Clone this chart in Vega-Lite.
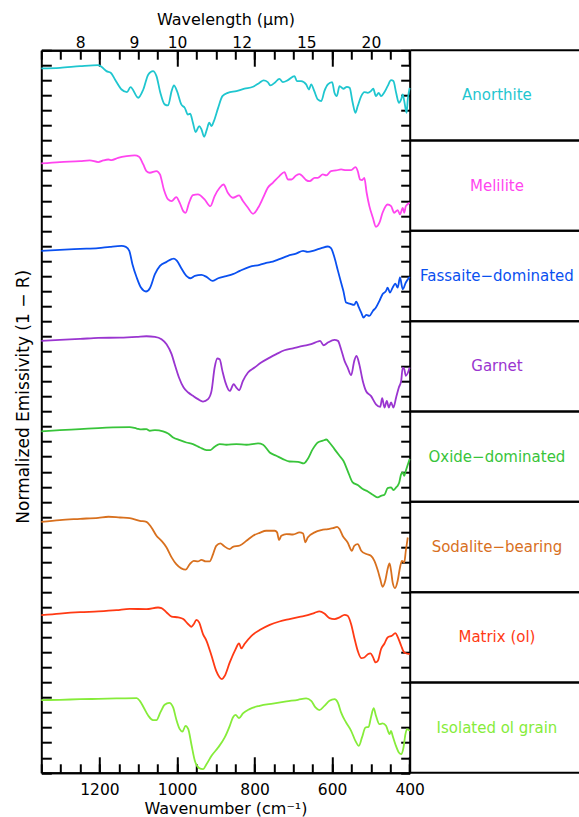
{
"$schema": "https://vega.github.io/schema/vega-lite/v6.json",
"padding": {"left": 14.3, "top": 11.2, "right": 0, "bottom": 0},
"spacing": 0,
"bounds": "flush",
"resolve": {"scale": {"x": "independent", "y": "independent"}},
"config": {
  "view": {"stroke": null},
  "axis": {"domainColor": "black", "domainWidth": 2, "tickColor": "black", "tickWidth": 2, "labelColor": "black", "titleColor": "black", "labelFont": "DejaVu Sans", "titleFont": "DejaVu Sans", "labelFontSize": 15.5, "titleFontSize": 16, "titleFontWeight": "normal", "grid": false, "labelFlush": false, "labelOverlap": false}
},
"datasets": {
"labels": [{"sample":"Anorthite"},{"sample":"Melilite"},{"sample":"Fassaite−dominated"},{"sample":"Garnet"},{"sample":"Oxide−dominated"},{"sample":"Sodalite−bearing"},{"sample":"Matrix (ol)"},{"sample":"Isolated ol grain"}],
"spectra": [
{"sample":"Anorthite","wn":1350,"e":46.79},{"sample":"Anorthite","wn":1302,"e":46.83},{"sample":"Anorthite","wn":1250,"e":46.94},{"sample":"Anorthite","wn":1203,"e":47.01},{"sample":"Anorthite","wn":1195,"e":46.9},{"sample":"Anorthite","wn":1182,"e":46.61},{"sample":"Anorthite","wn":1171,"e":46.5},{"sample":"Anorthite","wn":1160,"e":46.06},{"sample":"Anorthite","wn":1143,"e":45.39},{"sample":"Anorthite","wn":1129,"e":45.22},{"sample":"Anorthite","wn":1120,"e":45.55},{"sample":"Anorthite","wn":1100,"e":44.84},{"sample":"Anorthite","wn":1087,"e":45.39},{"sample":"Anorthite","wn":1074,"e":46.39},{"sample":"Anorthite","wn":1062,"e":46.61},{"sample":"Anorthite","wn":1053,"e":46.28},{"sample":"Anorthite","wn":1043,"e":45.17},{"sample":"Anorthite","wn":1032,"e":44.4},{"sample":"Anorthite","wn":1023,"e":44.33},{"sample":"Anorthite","wn":1014,"e":45.28},{"sample":"Anorthite","wn":1008,"e":45.66},{"sample":"Anorthite","wn":1000,"e":45.28},{"sample":"Anorthite","wn":989,"e":44.4},{"sample":"Anorthite","wn":980,"e":44.17},{"sample":"Anorthite","wn":972,"e":43.73},{"sample":"Anorthite","wn":966,"e":43.78},{"sample":"Anorthite","wn":959,"e":43.18},{"sample":"Anorthite","wn":952,"e":42.56},{"sample":"Anorthite","wn":943,"e":42.96},{"sample":"Anorthite","wn":937,"e":42.74},{"sample":"Anorthite","wn":930,"e":42.25},{"sample":"Anorthite","wn":923,"e":42.74},{"sample":"Anorthite","wn":917,"e":43.18},{"sample":"Anorthite","wn":911,"e":42.96},{"sample":"Anorthite","wn":905,"e":43.29},{"sample":"Anorthite","wn":894,"e":44.17},{"sample":"Anorthite","wn":883,"e":44.95},{"sample":"Anorthite","wn":869,"e":45.17},{"sample":"Anorthite","wn":847,"e":45.28},{"sample":"Anorthite","wn":826,"e":45.44},{"sample":"Anorthite","wn":804,"e":45.57},{"sample":"Anorthite","wn":787,"e":45.84},{"sample":"Anorthite","wn":777,"e":45.99},{"sample":"Anorthite","wn":766,"e":45.88},{"sample":"Anorthite","wn":759,"e":45.66},{"sample":"Anorthite","wn":748,"e":45.84},{"sample":"Anorthite","wn":736,"e":46.1},{"sample":"Anorthite","wn":727,"e":45.88},{"sample":"Anorthite","wn":714,"e":46.01},{"sample":"Anorthite","wn":697,"e":46.28},{"sample":"Anorthite","wn":691,"e":45.95},{"sample":"Anorthite","wn":680,"e":45.95},{"sample":"Anorthite","wn":667,"e":45.73},{"sample":"Anorthite","wn":660,"e":45.39},{"sample":"Anorthite","wn":654,"e":45.73},{"sample":"Anorthite","wn":646,"e":45.28},{"sample":"Anorthite","wn":637,"e":44.73},{"sample":"Anorthite","wn":628,"e":44.62},{"sample":"Anorthite","wn":620,"e":45.28},{"sample":"Anorthite","wn":611,"e":45.73},{"sample":"Anorthite","wn":600,"e":45.88},{"sample":"Anorthite","wn":594,"e":45.17},{"sample":"Anorthite","wn":588,"e":44.95},{"sample":"Anorthite","wn":581,"e":45.61},{"sample":"Anorthite","wn":571,"e":45.44},{"sample":"Anorthite","wn":562,"e":45.57},{"sample":"Anorthite","wn":555,"e":45.5},{"sample":"Anorthite","wn":547,"e":44.51},{"sample":"Anorthite","wn":540,"e":43.84},{"sample":"Anorthite","wn":534,"e":44.29},{"sample":"Anorthite","wn":525,"e":44.95},{"sample":"Anorthite","wn":517,"e":45.22},{"sample":"Anorthite","wn":508,"e":45.17},{"sample":"Anorthite","wn":500,"e":45.28},{"sample":"Anorthite","wn":494,"e":45.44},{"sample":"Anorthite","wn":487,"e":44.95},{"sample":"Anorthite","wn":480,"e":45.17},{"sample":"Anorthite","wn":474,"e":44.95},{"sample":"Anorthite","wn":465,"e":45.22},{"sample":"Anorthite","wn":457,"e":45.61},{"sample":"Anorthite","wn":448,"e":46.01},{"sample":"Anorthite","wn":442,"e":45.95},{"sample":"Anorthite","wn":435,"e":45.17},{"sample":"Anorthite","wn":428,"e":44.51},{"sample":"Anorthite","wn":422,"e":44.73},{"sample":"Anorthite","wn":418,"e":45.06},{"sample":"Anorthite","wn":414,"e":44.62},{"sample":"Anorthite","wn":408,"e":43.84},{"sample":"Anorthite","wn":405,"e":44.73},{"sample":"Anorthite","wn":400,"e":45.5},
{"sample":"Melilite","wn":1350,"e":40.48},{"sample":"Melilite","wn":1302,"e":40.57},{"sample":"Melilite","wn":1250,"e":40.63},{"sample":"Melilite","wn":1225,"e":40.68},{"sample":"Melilite","wn":1203,"e":40.57},{"sample":"Melilite","wn":1190,"e":40.68},{"sample":"Melilite","wn":1177,"e":40.74},{"sample":"Melilite","wn":1169,"e":40.7},{"sample":"Melilite","wn":1152,"e":40.85},{"sample":"Melilite","wn":1130,"e":40.96},{"sample":"Melilite","wn":1109,"e":41.01},{"sample":"Melilite","wn":1098,"e":40.92},{"sample":"Melilite","wn":1087,"e":40.41},{"sample":"Melilite","wn":1079,"e":39.97},{"sample":"Melilite","wn":1070,"e":39.86},{"sample":"Melilite","wn":1053,"e":39.97},{"sample":"Melilite","wn":1044,"e":39.75},{"sample":"Melilite","wn":1034,"e":38.75},{"sample":"Melilite","wn":1023,"e":38.09},{"sample":"Melilite","wn":1014,"e":37.98},{"sample":"Melilite","wn":1002,"e":38.24},{"sample":"Melilite","wn":993,"e":37.86},{"sample":"Melilite","wn":984,"e":37.31},{"sample":"Melilite","wn":978,"e":37.2},{"sample":"Melilite","wn":969,"e":37.86},{"sample":"Melilite","wn":959,"e":38.37},{"sample":"Melilite","wn":946,"e":38.42},{"sample":"Melilite","wn":929,"e":38.09},{"sample":"Melilite","wn":914,"e":37.64},{"sample":"Melilite","wn":903,"e":38.31},{"sample":"Melilite","wn":890,"e":38.86},{"sample":"Melilite","wn":880,"e":39.08},{"sample":"Melilite","wn":869,"e":38.53},{"sample":"Melilite","wn":856,"e":38.2},{"sample":"Melilite","wn":840,"e":38.35},{"sample":"Melilite","wn":830,"e":37.98},{"sample":"Melilite","wn":817,"e":37.53},{"sample":"Melilite","wn":804,"e":37.13},{"sample":"Melilite","wn":791,"e":37.53},{"sample":"Melilite","wn":778,"e":38.2},{"sample":"Melilite","wn":766,"e":38.86},{"sample":"Melilite","wn":753,"e":39.19},{"sample":"Melilite","wn":736,"e":39.64},{"sample":"Melilite","wn":723,"e":39.9},{"sample":"Melilite","wn":714,"e":39.41},{"sample":"Melilite","wn":705,"e":39.41},{"sample":"Melilite","wn":693,"e":39.68},{"sample":"Melilite","wn":684,"e":39.77},{"sample":"Melilite","wn":675,"e":39.59},{"sample":"Melilite","wn":667,"e":39.37},{"sample":"Melilite","wn":658,"e":39.3},{"sample":"Melilite","wn":645,"e":39.52},{"sample":"Melilite","wn":637,"e":39.52},{"sample":"Melilite","wn":624,"e":39.75},{"sample":"Melilite","wn":615,"e":39.68},{"sample":"Melilite","wn":603,"e":39.97},{"sample":"Melilite","wn":590,"e":40.01},{"sample":"Melilite","wn":577,"e":40.08},{"sample":"Melilite","wn":564,"e":40.03},{"sample":"Melilite","wn":551,"e":40.03},{"sample":"Melilite","wn":540,"e":40.23},{"sample":"Melilite","wn":534,"e":39.97},{"sample":"Melilite","wn":528,"e":39.41},{"sample":"Melilite","wn":523,"e":39.37},{"sample":"Melilite","wn":517,"e":39.52},{"sample":"Melilite","wn":511,"e":38.53},{"sample":"Melilite","wn":504,"e":37.64},{"sample":"Melilite","wn":495,"e":36.87},{"sample":"Melilite","wn":487,"e":36.27},{"sample":"Melilite","wn":478,"e":36.54},{"sample":"Melilite","wn":470,"e":37.2},{"sample":"Melilite","wn":457,"e":37.75},{"sample":"Melilite","wn":448,"e":37.64},{"sample":"Melilite","wn":440,"e":37.2},{"sample":"Melilite","wn":431,"e":37.38},{"sample":"Melilite","wn":425,"e":37.09},{"sample":"Melilite","wn":418,"e":37.53},{"sample":"Melilite","wn":414,"e":37.2},{"sample":"Melilite","wn":410,"e":37.64},{"sample":"Melilite","wn":400,"e":37.86},
{"sample":"Fassaite−dominated","wn":1350,"e":34.67},{"sample":"Fassaite−dominated","wn":1302,"e":34.74},{"sample":"Fassaite−dominated","wn":1250,"e":34.8},{"sample":"Fassaite−dominated","wn":1203,"e":34.85},{"sample":"Fassaite−dominated","wn":1173,"e":34.94},{"sample":"Fassaite−dominated","wn":1143,"e":35.0},{"sample":"Fassaite−dominated","wn":1132,"e":34.94},{"sample":"Fassaite−dominated","wn":1123,"e":34.67},{"sample":"Fassaite−dominated","wn":1115,"e":33.78},{"sample":"Fassaite−dominated","wn":1104,"e":32.9},{"sample":"Fassaite−dominated","wn":1093,"e":32.23},{"sample":"Fassaite−dominated","wn":1080,"e":31.97},{"sample":"Fassaite−dominated","wn":1070,"e":32.19},{"sample":"Fassaite−dominated","wn":1057,"e":33.12},{"sample":"Fassaite−dominated","wn":1044,"e":33.67},{"sample":"Fassaite−dominated","wn":1027,"e":33.94},{"sample":"Fassaite−dominated","wn":1014,"e":34.12},{"sample":"Fassaite−dominated","wn":1008,"e":34.16},{"sample":"Fassaite−dominated","wn":1000,"e":34.01},{"sample":"Fassaite−dominated","wn":989,"e":33.52},{"sample":"Fassaite−dominated","wn":976,"e":33.01},{"sample":"Fassaite−dominated","wn":965,"e":32.85},{"sample":"Fassaite−dominated","wn":954,"e":33.01},{"sample":"Fassaite−dominated","wn":937,"e":33.08},{"sample":"Fassaite−dominated","wn":924,"e":32.94},{"sample":"Fassaite−dominated","wn":909,"e":32.68},{"sample":"Fassaite−dominated","wn":894,"e":32.85},{"sample":"Fassaite−dominated","wn":873,"e":32.99},{"sample":"Fassaite−dominated","wn":856,"e":33.12},{"sample":"Fassaite−dominated","wn":838,"e":33.34},{"sample":"Fassaite−dominated","wn":813,"e":33.61},{"sample":"Fassaite−dominated","wn":787,"e":33.74},{"sample":"Fassaite−dominated","wn":770,"e":33.87},{"sample":"Fassaite−dominated","wn":753,"e":33.96},{"sample":"Fassaite−dominated","wn":736,"e":34.12},{"sample":"Fassaite−dominated","wn":714,"e":34.34},{"sample":"Fassaite−dominated","wn":693,"e":34.49},{"sample":"Fassaite−dominated","wn":675,"e":34.67},{"sample":"Fassaite−dominated","wn":663,"e":34.6},{"sample":"Fassaite−dominated","wn":645,"e":34.71},{"sample":"Fassaite−dominated","wn":628,"e":34.85},{"sample":"Fassaite−dominated","wn":611,"e":34.96},{"sample":"Fassaite−dominated","wn":603,"e":34.85},{"sample":"Fassaite−dominated","wn":594,"e":34.23},{"sample":"Fassaite−dominated","wn":585,"e":33.34},{"sample":"Fassaite−dominated","wn":577,"e":32.57},{"sample":"Fassaite−dominated","wn":571,"e":32.01},{"sample":"Fassaite−dominated","wn":564,"e":31.24},{"sample":"Fassaite−dominated","wn":555,"e":31.17},{"sample":"Fassaite−dominated","wn":543,"e":31.08},{"sample":"Fassaite−dominated","wn":538,"e":31.3},{"sample":"Fassaite−dominated","wn":531,"e":30.91},{"sample":"Fassaite−dominated","wn":525,"e":30.57},{"sample":"Fassaite−dominated","wn":519,"e":30.24},{"sample":"Fassaite−dominated","wn":512,"e":30.42},{"sample":"Fassaite−dominated","wn":504,"e":30.35},{"sample":"Fassaite−dominated","wn":495,"e":30.68},{"sample":"Fassaite−dominated","wn":487,"e":30.91},{"sample":"Fassaite−dominated","wn":478,"e":31.35},{"sample":"Fassaite−dominated","wn":470,"e":31.79},{"sample":"Fassaite−dominated","wn":461,"e":32.01},{"sample":"Fassaite−dominated","wn":457,"e":32.23},{"sample":"Fassaite−dominated","wn":451,"e":31.9},{"sample":"Fassaite−dominated","wn":444,"e":32.23},{"sample":"Fassaite−dominated","wn":437,"e":32.5},{"sample":"Fassaite−dominated","wn":431,"e":32.23},{"sample":"Fassaite−dominated","wn":425,"e":32.9},{"sample":"Fassaite−dominated","wn":418,"e":32.12},{"sample":"Fassaite−dominated","wn":410,"e":32.57},{"sample":"Fassaite−dominated","wn":400,"e":32.94},
{"sample":"Garnet","wn":1350,"e":28.69},{"sample":"Garnet","wn":1302,"e":28.76},{"sample":"Garnet","wn":1250,"e":28.82},{"sample":"Garnet","wn":1203,"e":28.89},{"sample":"Garnet","wn":1147,"e":28.91},{"sample":"Garnet","wn":1104,"e":28.96},{"sample":"Garnet","wn":1079,"e":29.0},{"sample":"Garnet","wn":1057,"e":28.96},{"sample":"Garnet","wn":1040,"e":28.8},{"sample":"Garnet","wn":1027,"e":28.47},{"sample":"Garnet","wn":1014,"e":27.81},{"sample":"Garnet","wn":1006,"e":27.14},{"sample":"Garnet","wn":995,"e":26.26},{"sample":"Garnet","wn":983,"e":25.59},{"sample":"Garnet","wn":971,"e":25.26},{"sample":"Garnet","wn":959,"e":25.04},{"sample":"Garnet","wn":946,"e":24.82},{"sample":"Garnet","wn":933,"e":24.66},{"sample":"Garnet","wn":920,"e":24.82},{"sample":"Garnet","wn":911,"e":25.37},{"sample":"Garnet","wn":903,"e":26.92},{"sample":"Garnet","wn":896,"e":27.52},{"sample":"Garnet","wn":890,"e":27.47},{"sample":"Garnet","wn":883,"e":26.7},{"sample":"Garnet","wn":875,"e":25.92},{"sample":"Garnet","wn":864,"e":25.37},{"sample":"Garnet","wn":854,"e":25.81},{"sample":"Garnet","wn":847,"e":25.59},{"sample":"Garnet","wn":840,"e":25.41},{"sample":"Garnet","wn":830,"e":26.03},{"sample":"Garnet","wn":817,"e":26.59},{"sample":"Garnet","wn":800,"e":26.92},{"sample":"Garnet","wn":783,"e":27.25},{"sample":"Garnet","wn":761,"e":27.58},{"sample":"Garnet","wn":744,"e":27.81},{"sample":"Garnet","wn":723,"e":28.07},{"sample":"Garnet","wn":701,"e":28.2},{"sample":"Garnet","wn":675,"e":28.36},{"sample":"Garnet","wn":654,"e":28.47},{"sample":"Garnet","wn":637,"e":28.65},{"sample":"Garnet","wn":631,"e":28.69},{"sample":"Garnet","wn":622,"e":28.4},{"sample":"Garnet","wn":611,"e":28.58},{"sample":"Garnet","wn":594,"e":28.76},{"sample":"Garnet","wn":585,"e":28.69},{"sample":"Garnet","wn":577,"e":28.14},{"sample":"Garnet","wn":568,"e":27.36},{"sample":"Garnet","wn":560,"e":26.92},{"sample":"Garnet","wn":551,"e":26.41},{"sample":"Garnet","wn":543,"e":27.36},{"sample":"Garnet","wn":537,"e":27.7},{"sample":"Garnet","wn":530,"e":27.14},{"sample":"Garnet","wn":521,"e":26.03},{"sample":"Garnet","wn":512,"e":25.33},{"sample":"Garnet","wn":500,"e":25.04},{"sample":"Garnet","wn":487,"e":24.48},{"sample":"Garnet","wn":476,"e":24.31},{"sample":"Garnet","wn":471,"e":24.88},{"sample":"Garnet","wn":465,"e":24.26},{"sample":"Garnet","wn":459,"e":24.71},{"sample":"Garnet","wn":454,"e":24.26},{"sample":"Garnet","wn":448,"e":24.6},{"sample":"Garnet","wn":442,"e":24.26},{"sample":"Garnet","wn":435,"e":24.93},{"sample":"Garnet","wn":428,"e":25.59},{"sample":"Garnet","wn":422,"e":26.03},{"sample":"Garnet","wn":418,"e":26.92},{"sample":"Garnet","wn":414,"e":26.81},{"sample":"Garnet","wn":410,"e":26.37},{"sample":"Garnet","wn":400,"e":26.92},
{"sample":"Oxide−dominated","wn":1350,"e":22.68},{"sample":"Oxide−dominated","wn":1302,"e":22.76},{"sample":"Oxide−dominated","wn":1250,"e":22.83},{"sample":"Oxide−dominated","wn":1203,"e":22.9},{"sample":"Oxide−dominated","wn":1165,"e":22.94},{"sample":"Oxide−dominated","wn":1122,"e":22.96},{"sample":"Oxide−dominated","wn":1104,"e":22.87},{"sample":"Oxide−dominated","wn":1092,"e":22.81},{"sample":"Oxide−dominated","wn":1079,"e":22.83},{"sample":"Oxide−dominated","wn":1070,"e":22.72},{"sample":"Oxide−dominated","wn":1057,"e":22.76},{"sample":"Oxide−dominated","wn":1036,"e":22.68},{"sample":"Oxide−dominated","wn":1023,"e":22.54},{"sample":"Oxide−dominated","wn":1010,"e":22.28},{"sample":"Oxide−dominated","wn":993,"e":22.1},{"sample":"Oxide−dominated","wn":976,"e":21.94},{"sample":"Oxide−dominated","wn":959,"e":21.83},{"sample":"Oxide−dominated","wn":941,"e":21.61},{"sample":"Oxide−dominated","wn":924,"e":21.44},{"sample":"Oxide−dominated","wn":914,"e":21.44},{"sample":"Oxide−dominated","wn":903,"e":21.66},{"sample":"Oxide−dominated","wn":890,"e":21.83},{"sample":"Oxide−dominated","wn":873,"e":21.79},{"sample":"Oxide−dominated","wn":847,"e":21.83},{"sample":"Oxide−dominated","wn":821,"e":21.79},{"sample":"Oxide−dominated","wn":791,"e":21.88},{"sample":"Oxide−dominated","wn":778,"e":21.79},{"sample":"Oxide−dominated","wn":761,"e":21.28},{"sample":"Oxide−dominated","wn":744,"e":21.06},{"sample":"Oxide−dominated","wn":727,"e":20.84},{"sample":"Oxide−dominated","wn":710,"e":20.68},{"sample":"Oxide−dominated","wn":688,"e":20.66},{"sample":"Oxide−dominated","wn":673,"e":20.55},{"sample":"Oxide−dominated","wn":663,"e":20.84},{"sample":"Oxide−dominated","wn":650,"e":21.5},{"sample":"Oxide−dominated","wn":637,"e":21.94},{"sample":"Oxide−dominated","wn":624,"e":22.06},{"sample":"Oxide−dominated","wn":615,"e":22.14},{"sample":"Oxide−dominated","wn":607,"e":21.94},{"sample":"Oxide−dominated","wn":594,"e":21.5},{"sample":"Oxide−dominated","wn":581,"e":21.06},{"sample":"Oxide−dominated","wn":571,"e":20.73},{"sample":"Oxide−dominated","wn":560,"e":20.06},{"sample":"Oxide−dominated","wn":547,"e":19.29},{"sample":"Oxide−dominated","wn":534,"e":19.11},{"sample":"Oxide−dominated","wn":521,"e":18.85},{"sample":"Oxide−dominated","wn":508,"e":18.69},{"sample":"Oxide−dominated","wn":495,"e":18.47},{"sample":"Oxide−dominated","wn":482,"e":18.29},{"sample":"Oxide−dominated","wn":474,"e":18.4},{"sample":"Oxide−dominated","wn":465,"e":18.47},{"sample":"Oxide−dominated","wn":457,"e":18.91},{"sample":"Oxide−dominated","wn":448,"e":18.96},{"sample":"Oxide−dominated","wn":442,"e":18.78},{"sample":"Oxide−dominated","wn":435,"e":18.96},{"sample":"Oxide−dominated","wn":431,"e":19.07},{"sample":"Oxide−dominated","wn":427,"e":19.29},{"sample":"Oxide−dominated","wn":422,"e":19.84},{"sample":"Oxide−dominated","wn":418,"e":19.95},{"sample":"Oxide−dominated","wn":414,"e":19.73},{"sample":"Oxide−dominated","wn":410,"e":20.06},{"sample":"Oxide−dominated","wn":400,"e":20.84},
{"sample":"Sodalite−bearing","wn":1350,"e":16.67},{"sample":"Sodalite−bearing","wn":1302,"e":16.79},{"sample":"Sodalite−bearing","wn":1250,"e":16.87},{"sample":"Sodalite−bearing","wn":1203,"e":16.94},{"sample":"Sodalite−bearing","wn":1177,"e":17.01},{"sample":"Sodalite−bearing","wn":1147,"e":16.96},{"sample":"Sodalite−bearing","wn":1122,"e":16.92},{"sample":"Sodalite−bearing","wn":1096,"e":16.74},{"sample":"Sodalite−bearing","wn":1079,"e":16.67},{"sample":"Sodalite−bearing","wn":1066,"e":16.3},{"sample":"Sodalite−bearing","wn":1053,"e":15.75},{"sample":"Sodalite−bearing","wn":1040,"e":15.41},{"sample":"Sodalite−bearing","wn":1027,"e":14.97},{"sample":"Sodalite−bearing","wn":1014,"e":14.31},{"sample":"Sodalite−bearing","wn":1002,"e":13.86},{"sample":"Sodalite−bearing","wn":989,"e":13.58},{"sample":"Sodalite−bearing","wn":978,"e":13.49},{"sample":"Sodalite−bearing","wn":967,"e":13.86},{"sample":"Sodalite−bearing","wn":957,"e":14.08},{"sample":"Sodalite−bearing","wn":946,"e":14.04},{"sample":"Sodalite−bearing","wn":937,"e":14.15},{"sample":"Sodalite−bearing","wn":926,"e":14.04},{"sample":"Sodalite−bearing","wn":916,"e":14.04},{"sample":"Sodalite−bearing","wn":907,"e":14.53},{"sample":"Sodalite−bearing","wn":899,"e":15.08},{"sample":"Sodalite−bearing","wn":888,"e":15.24},{"sample":"Sodalite−bearing","wn":880,"e":15.08},{"sample":"Sodalite−bearing","wn":864,"e":14.86},{"sample":"Sodalite−bearing","wn":856,"e":15.01},{"sample":"Sodalite−bearing","wn":838,"e":15.1},{"sample":"Sodalite−bearing","wn":821,"e":15.41},{"sample":"Sodalite−bearing","wn":804,"e":15.75},{"sample":"Sodalite−bearing","wn":787,"e":15.94},{"sample":"Sodalite−bearing","wn":770,"e":16.08},{"sample":"Sodalite−bearing","wn":748,"e":16.08},{"sample":"Sodalite−bearing","wn":742,"e":15.97},{"sample":"Sodalite−bearing","wn":737,"e":15.46},{"sample":"Sodalite−bearing","wn":731,"e":15.75},{"sample":"Sodalite−bearing","wn":718,"e":15.86},{"sample":"Sodalite−bearing","wn":701,"e":15.83},{"sample":"Sodalite−bearing","wn":684,"e":15.97},{"sample":"Sodalite−bearing","wn":675,"e":15.9},{"sample":"Sodalite−bearing","wn":669,"e":15.3},{"sample":"Sodalite−bearing","wn":663,"e":15.63},{"sample":"Sodalite−bearing","wn":645,"e":15.97},{"sample":"Sodalite−bearing","wn":628,"e":16.12},{"sample":"Sodalite−bearing","wn":611,"e":16.19},{"sample":"Sodalite−bearing","wn":598,"e":16.25},{"sample":"Sodalite−bearing","wn":587,"e":16.34},{"sample":"Sodalite−bearing","wn":581,"e":16.19},{"sample":"Sodalite−bearing","wn":573,"e":15.75},{"sample":"Sodalite−bearing","wn":560,"e":15.3},{"sample":"Sodalite−bearing","wn":549,"e":14.75},{"sample":"Sodalite−bearing","wn":543,"e":15.08},{"sample":"Sodalite−bearing","wn":534,"e":15.19},{"sample":"Sodalite−bearing","wn":525,"e":14.75},{"sample":"Sodalite−bearing","wn":512,"e":14.53},{"sample":"Sodalite−bearing","wn":500,"e":14.42},{"sample":"Sodalite−bearing","wn":491,"e":14.08},{"sample":"Sodalite−bearing","wn":482,"e":13.42},{"sample":"Sodalite−bearing","wn":476,"e":12.87},{"sample":"Sodalite−bearing","wn":470,"e":12.36},{"sample":"Sodalite−bearing","wn":463,"e":12.76},{"sample":"Sodalite−bearing","wn":457,"e":13.53},{"sample":"Sodalite−bearing","wn":452,"e":13.91},{"sample":"Sodalite−bearing","wn":448,"e":13.42},{"sample":"Sodalite−bearing","wn":444,"e":12.65},{"sample":"Sodalite−bearing","wn":438,"e":12.27},{"sample":"Sodalite−bearing","wn":431,"e":12.76},{"sample":"Sodalite−bearing","wn":425,"e":13.64},{"sample":"Sodalite−bearing","wn":420,"e":14.08},{"sample":"Sodalite−bearing","wn":414,"e":13.97},{"sample":"Sodalite−bearing","wn":410,"e":14.75},{"sample":"Sodalite−bearing","wn":405,"e":15.63},
{"sample":"Matrix (ol)","wn":1350,"e":10.47},{"sample":"Matrix (ol)","wn":1302,"e":10.58},{"sample":"Matrix (ol)","wn":1250,"e":10.67},{"sample":"Matrix (ol)","wn":1203,"e":10.72},{"sample":"Matrix (ol)","wn":1156,"e":10.8},{"sample":"Matrix (ol)","wn":1122,"e":10.89},{"sample":"Matrix (ol)","wn":1079,"e":10.87},{"sample":"Matrix (ol)","wn":1049,"e":10.98},{"sample":"Matrix (ol)","wn":1040,"e":10.94},{"sample":"Matrix (ol)","wn":1027,"e":10.65},{"sample":"Matrix (ol)","wn":1014,"e":10.38},{"sample":"Matrix (ol)","wn":997,"e":10.32},{"sample":"Matrix (ol)","wn":984,"e":10.21},{"sample":"Matrix (ol)","wn":971,"e":9.87},{"sample":"Matrix (ol)","wn":963,"e":9.7},{"sample":"Matrix (ol)","wn":957,"e":9.87},{"sample":"Matrix (ol)","wn":950,"e":10.16},{"sample":"Matrix (ol)","wn":943,"e":9.99},{"sample":"Matrix (ol)","wn":933,"e":9.21},{"sample":"Matrix (ol)","wn":924,"e":8.77},{"sample":"Matrix (ol)","wn":911,"e":7.77},{"sample":"Matrix (ol)","wn":899,"e":6.77},{"sample":"Matrix (ol)","wn":890,"e":6.33},{"sample":"Matrix (ol)","wn":884,"e":6.22},{"sample":"Matrix (ol)","wn":877,"e":6.44},{"sample":"Matrix (ol)","wn":864,"e":7.33},{"sample":"Matrix (ol)","wn":851,"e":8.1},{"sample":"Matrix (ol)","wn":840,"e":8.59},{"sample":"Matrix (ol)","wn":834,"e":8.26},{"sample":"Matrix (ol)","wn":826,"e":8.55},{"sample":"Matrix (ol)","wn":808,"e":9.1},{"sample":"Matrix (ol)","wn":787,"e":9.48},{"sample":"Matrix (ol)","wn":761,"e":9.83},{"sample":"Matrix (ol)","wn":736,"e":10.05},{"sample":"Matrix (ol)","wn":710,"e":10.21},{"sample":"Matrix (ol)","wn":684,"e":10.36},{"sample":"Matrix (ol)","wn":663,"e":10.47},{"sample":"Matrix (ol)","wn":645,"e":10.63},{"sample":"Matrix (ol)","wn":633,"e":10.72},{"sample":"Matrix (ol)","wn":620,"e":10.58},{"sample":"Matrix (ol)","wn":607,"e":10.27},{"sample":"Matrix (ol)","wn":594,"e":10.21},{"sample":"Matrix (ol)","wn":581,"e":10.32},{"sample":"Matrix (ol)","wn":568,"e":10.49},{"sample":"Matrix (ol)","wn":560,"e":10.43},{"sample":"Matrix (ol)","wn":551,"e":9.87},{"sample":"Matrix (ol)","wn":543,"e":8.99},{"sample":"Matrix (ol)","wn":534,"e":8.1},{"sample":"Matrix (ol)","wn":525,"e":7.62},{"sample":"Matrix (ol)","wn":517,"e":7.66},{"sample":"Matrix (ol)","wn":508,"e":7.88},{"sample":"Matrix (ol)","wn":501,"e":7.93},{"sample":"Matrix (ol)","wn":495,"e":7.7},{"sample":"Matrix (ol)","wn":488,"e":7.33},{"sample":"Matrix (ol)","wn":482,"e":7.44},{"sample":"Matrix (ol)","wn":474,"e":8.21},{"sample":"Matrix (ol)","wn":465,"e":8.59},{"sample":"Matrix (ol)","wn":457,"e":8.99},{"sample":"Matrix (ol)","wn":446,"e":9.1},{"sample":"Matrix (ol)","wn":437,"e":9.28},{"sample":"Matrix (ol)","wn":431,"e":9.03},{"sample":"Matrix (ol)","wn":422,"e":8.44},{"sample":"Matrix (ol)","wn":414,"e":7.99},{"sample":"Matrix (ol)","wn":400,"e":7.88},
{"sample":"Isolated ol grain","wn":1350,"e":4.83},{"sample":"Isolated ol grain","wn":1302,"e":4.85},{"sample":"Isolated ol grain","wn":1250,"e":4.89},{"sample":"Isolated ol grain","wn":1203,"e":4.91},{"sample":"Isolated ol grain","wn":1156,"e":4.94},{"sample":"Isolated ol grain","wn":1104,"e":4.96},{"sample":"Isolated ol grain","wn":1096,"e":4.78},{"sample":"Isolated ol grain","wn":1086,"e":4.34},{"sample":"Isolated ol grain","wn":1074,"e":3.79},{"sample":"Isolated ol grain","wn":1062,"e":3.5},{"sample":"Isolated ol grain","wn":1053,"e":3.5},{"sample":"Isolated ol grain","wn":1043,"e":4.01},{"sample":"Isolated ol grain","wn":1032,"e":4.52},{"sample":"Isolated ol grain","wn":1020,"e":4.65},{"sample":"Isolated ol grain","wn":1010,"e":4.34},{"sample":"Isolated ol grain","wn":1002,"e":3.56},{"sample":"Isolated ol grain","wn":993,"e":2.9},{"sample":"Isolated ol grain","wn":986,"e":2.74},{"sample":"Isolated ol grain","wn":978,"e":3.12},{"sample":"Isolated ol grain","wn":971,"e":2.9},{"sample":"Isolated ol grain","wn":963,"e":1.9},{"sample":"Isolated ol grain","wn":954,"e":0.8},{"sample":"Isolated ol grain","wn":943,"e":0.31},{"sample":"Isolated ol grain","wn":933,"e":0.24},{"sample":"Isolated ol grain","wn":924,"e":0.57},{"sample":"Isolated ol grain","wn":911,"e":1.13},{"sample":"Isolated ol grain","wn":894,"e":1.68},{"sample":"Isolated ol grain","wn":877,"e":2.35},{"sample":"Isolated ol grain","wn":864,"e":3.12},{"sample":"Isolated ol grain","wn":856,"e":3.67},{"sample":"Isolated ol grain","wn":849,"e":3.85},{"sample":"Isolated ol grain","wn":840,"e":3.63},{"sample":"Isolated ol grain","wn":830,"e":3.94},{"sample":"Isolated ol grain","wn":813,"e":4.23},{"sample":"Isolated ol grain","wn":787,"e":4.45},{"sample":"Isolated ol grain","wn":753,"e":4.6},{"sample":"Isolated ol grain","wn":718,"e":4.74},{"sample":"Isolated ol grain","wn":688,"e":4.85},{"sample":"Isolated ol grain","wn":667,"e":4.94},{"sample":"Isolated ol grain","wn":654,"e":4.78},{"sample":"Isolated ol grain","wn":643,"e":4.34},{"sample":"Isolated ol grain","wn":633,"e":4.16},{"sample":"Isolated ol grain","wn":620,"e":4.45},{"sample":"Isolated ol grain","wn":607,"e":4.78},{"sample":"Isolated ol grain","wn":594,"e":4.89},{"sample":"Isolated ol grain","wn":585,"e":4.65},{"sample":"Isolated ol grain","wn":577,"e":4.01},{"sample":"Isolated ol grain","wn":564,"e":3.34},{"sample":"Isolated ol grain","wn":551,"e":2.79},{"sample":"Isolated ol grain","wn":540,"e":2.12},{"sample":"Isolated ol grain","wn":531,"e":1.79},{"sample":"Isolated ol grain","wn":523,"e":2.35},{"sample":"Isolated ol grain","wn":514,"e":3.01},{"sample":"Isolated ol grain","wn":506,"e":3.05},{"sample":"Isolated ol grain","wn":500,"e":3.67},{"sample":"Isolated ol grain","wn":493,"e":4.29},{"sample":"Isolated ol grain","wn":487,"e":3.79},{"sample":"Isolated ol grain","wn":478,"e":3.23},{"sample":"Isolated ol grain","wn":470,"e":3.28},{"sample":"Isolated ol grain","wn":461,"e":3.12},{"sample":"Isolated ol grain","wn":452,"e":2.57},{"sample":"Isolated ol grain","wn":448,"e":2.79},{"sample":"Isolated ol grain","wn":444,"e":2.46},{"sample":"Isolated ol grain","wn":437,"e":1.9},{"sample":"Isolated ol grain","wn":428,"e":1.35},{"sample":"Isolated ol grain","wn":422,"e":1.24},{"sample":"Isolated ol grain","wn":416,"e":1.68},{"sample":"Isolated ol grain","wn":411,"e":2.57},{"sample":"Isolated ol grain","wn":407,"e":2.9},{"sample":"Isolated ol grain","wn":400,"e":2.79}
]
},
"hconcat": [
{
  "width": 368.4,
  "height": 722.6,
  "data": {"name": "spectra"},
  "resolve": {"axis": {"x": "independent", "y": "independent"}},
  "layer": [
    {
      "mark": {"type": "line", "strokeWidth": 1.8, "interpolate": "monotone"},
      "encoding": {
        "x": {"field": "wn", "type": "quantitative", "scale": {"domain": [400, 1350], "reverse": true, "nice": false, "zero": false},
              "axis": {"orient": "bottom", "values": [400, 600, 800, 1000, 1200], "format": "d", "tickSize": -16, "labelPadding": 26, "title": "Wavenumber (cm⁻¹)", "titlePadding": 2}},
        "y": {"field": "e", "type": "quantitative", "scale": {"domain": [0, 48], "nice": false, "zero": false},
              "axis": {"orient": "left", "values": [0,1,2,3,4,5,6,7,8,9,10,11,12,13,14,15,16,17,18,19,20,21,22,23,24,25,26,27,28,29,30,31,32,33,34,35,36,37,38,39,40,41,42,43,44,45,46,47,48], "tickSize": -10, "labels": false, "title": "Normalized Emissivity (1 − R)", "titleFontSize": 17, "titleY": 346, "titlePadding": 8}},
        "color": {"field": "sample", "type": "nominal", "legend": null,
                  "scale": {"domain": ["Anorthite","Melilite","Fassaite−dominated","Garnet","Oxide−dominated","Sodalite−bearing","Matrix (ol)","Isolated ol grain"],
                            "range": ["#1fc6cf","#ff45ef","#0a50f0","#9a35d0","#38c43a","#d8701e","#ff3a14","#86ec3a"]}}
      }
    },
    {
      "mark": {"type": "line", "opacity": 0},
      "encoding": {
        "x": {"field": "wn", "type": "quantitative", "axis": {"orient": "bottom", "values": [400,450,500,550,600,650,700,750,800,850,900,950,1000,1050,1100,1150,1200,1250,1300,1350], "tickSize": -9, "labels": false, "title": null}},
        "y": {"field": "e", "type": "quantitative", "axis": {"orient": "right", "values": [0,1,2,3,4,5,6,7,8,9,10,11,12,13,14,15,16,17,18,19,20,21,22,23,24,25,26,27,28,29,30,31,32,33,34,35,36,37,38,39,40,41,42,43,44,45,46,47,48], "tickSize": -9, "labels": false, "title": null}},
        "detail": {"field": "sample"}
      }
    },
    {
      "mark": {"type": "line", "opacity": 0},
      "encoding": {
        "x": {"field": "wn", "type": "quantitative", "axis": {"orient": "top", "values": [400, 600, 800, 1000, 1200], "tickSize": -16, "labels": false, "title": null}},
        "y": {"field": "e", "type": "quantitative", "axis": null},
        "detail": {"field": "sample"}
      }
    },
    {
      "mark": {"type": "line", "opacity": 0},
      "encoding": {
        "x": {"field": "wn", "type": "quantitative", "axis": {"orient": "top", "values": [400,450,500,550,600,650,700,750,800,850,900,950,1000,1050,1100,1150,1200,1250,1300,1350], "tickSize": -9, "labels": false, "title": null}},
        "y": {"field": "e", "type": "quantitative", "axis": null},
        "detail": {"field": "sample"}
      }
    },
    {
      "mark": {"type": "line", "opacity": 0},
      "encoding": {
        "x": {"field": "wn", "type": "quantitative", "axis": {"orient": "top", "values": [1250, 1111.111, 1000, 833.333, 666.667, 500], "ticks": false, "domain": false, "labelPadding": 0, "labelExpr": "format(10000 / datum.value, '.0f')", "title": "Wavelength (μm)", "titlePadding": 8}},
        "y": {"field": "e", "type": "quantitative", "axis": null},
        "detail": {"field": "sample"}
      }
    }
  ]
},
{
  "width": 171.3,
  "height": 722.6,
  "data": {"name": "labels"},
  "layer": [
    {
      "mark": {"type": "rule", "color": "black", "strokeWidth": 2},
      "encoding": {
        "y": {"field": "sample", "type": "nominal", "bandPosition": 0, "axis": null,
              "scale": {"domain": ["Anorthite","Melilite","Fassaite−dominated","Garnet","Oxide−dominated","Sodalite−bearing","Matrix (ol)","Isolated ol grain"], "paddingInner": 0, "paddingOuter": 0}}
      }
    },
    {
      "mark": {"type": "rule", "color": "black", "strokeWidth": 2},
      "encoding": {
        "y": {"field": "sample", "type": "nominal", "bandPosition": 1, "axis": null}
      }
    },
    {
      "mark": {"type": "text", "font": "DejaVu Sans", "fontSize": 15, "dx": 1, "align": "center", "baseline": "middle"},
      "encoding": {
        "y": {"field": "sample", "type": "nominal", "axis": null},
        "text": {"field": "sample"},
        "color": {"field": "sample", "type": "nominal", "legend": null}
      }
    }
  ]
}
]
}
